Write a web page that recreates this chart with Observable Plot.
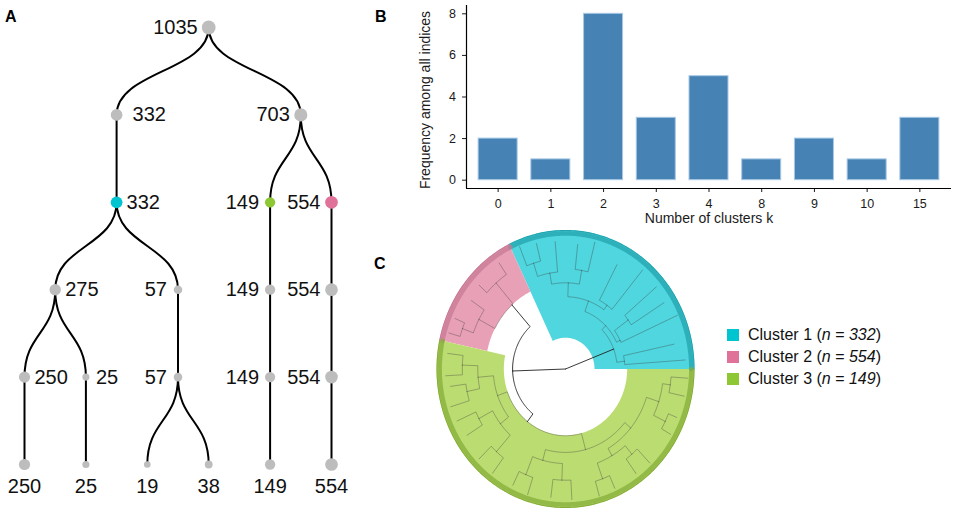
<!DOCTYPE html>
<html><head><meta charset="utf-8">
<script src="https://cdn.jsdelivr.net/npm/d3@7"></script>
<script src="https://cdn.jsdelivr.net/npm/@observablehq/plot@0.6"></script>
<style>
body{margin:0;background:#fff;font-family:"Liberation Sans",Arial,sans-serif;}
#fig{position:relative;width:957px;height:512px;overflow:hidden;background:#fff;}
.panel{position:absolute;}
.lab{position:absolute;font-weight:bold;font-size:16px;line-height:16px;color:#000;}
#legend{position:absolute;left:727px;top:324px;font-size:16px;color:#111;}
#legend .row{display:flex;align-items:center;height:22px;}
#legend .sw{width:12px;height:12px;margin-right:9px;}
</style></head><body><div id="fig"></div>
<script>
// ---------------- Panel A: cluster-size tree ----------------
const treeSizes   = [1035, 332, 703, 332, 149, 554, 275, 57, 149, 554, 250, 25, 57, 149, 554, 250, 25, 19, 38, 149, 554];
const treeParents = [-1, 0, 0, 1, 2, 2, 3, 3, 4, 5, 6, 6, 7, 8, 9, 10, 11, 12, 12, 13, 14];
const treeCluster = [null, null, null, "Cluster 1", "Cluster 3", "Cluster 2", null, null, null, null, null, null, null, null, null, null, null, null, null, null, null];

// ---------------- Panel B: frequency of k ----------------
const kLabels = ["0", "1", "2", "3", "4", "8", "9", "10", "15"];
const kFreq   = [2, 1, 8, 3, 5, 1, 2, 1, 3];

// ---------------- Panel C: circular dendrogram ----------------
const clusterNames = ["Cluster 1", "Cluster 2", "Cluster 3"];
const clusterN     = [332, 554, 149];
const sectorStart  = [0, 116, 168];     // degrees
const sectorEnd    = [116, 168, 360];
const sectorInner  = [0.225, 0.62, 0.478];
// main visible branches (angle in degrees, radius relative to outer ring, parent index)
const dendAngle  = [0, 21, 182, 7, 45, 4, 12, 26, 70, 24, 36, 32, 40, 55, 88, 50, 62, 80, 100, 76, 84, 95, 108, 104, 112,
                    132, 131, 152, 124, 138, 146, 160, 157, 164,
                    232, 200, 285, 185, 218, 178, 192, 173, 183, 188, 197, 208, 228, 204, 212, 224, 233,
                    255, 320, 248, 268, 244, 252, 263, 273, 300, 342, 290, 310, 286, 294, 306, 314, 334, 352, 330, 338, 348, 356];
const dendRadius = [0, 0.40, 0.41, 0.46, 0.44, 0.93, 0.86, 0.47, 0.52, 0.95, 0.60, 0.90, 0.92, 0.56, 0.62, 0.93, 0.85, 0.72, 0.70, 0.94, 0.90, 0.92, 0.80, 0.93, 0.95,
                    0.62, 0.82, 0.76, 0.92, 0.90, 0.88, 0.85, 0.93, 0.94,
                    0.48, 0.56, 0.60, 0.68, 0.64, 0.80, 0.78, 0.92, 0.93, 0.90, 0.93, 0.76, 0.80, 0.92, 0.90, 0.93, 0.94,
                    0.68, 0.66, 0.82, 0.80, 0.93, 0.95, 0.93, 0.94, 0.72, 0.76, 0.84, 0.80, 0.95, 0.94, 0.93, 0.94, 0.86, 0.82, 0.94, 0.93, 0.94, 0.95];
const dendParent = [-1, 0, 0, 1, 1, 3, 3, 4, 4, 7, 7, 10, 10, 8, 8, 13, 13, 14, 14, 17, 17, 18, 18, 22, 22,
                    2, 25, 25, 26, 26, 27, 27, 31, 31,
                    2, 34, 34, 35, 35, 37, 37, 39, 39, 40, 40, 38, 38, 45, 45, 46, 46,
                    36, 36, 51, 51, 53, 53, 54, 54, 52, 52, 59, 59, 61, 61, 62, 62, 60, 60, 67, 67, 68, 68];

const nodeColor = {"Cluster 1": "#00c4cf", "Cluster 2": "#e0729a", "Cluster 3": "#8ec734"};
const hiFill    = {"Cluster 1": "#4fd6de", "Cluster 2": "#e8a0b6", "Cluster 3": "#bbdc71"};
const rimColor  = {"Cluster 1": "#23a3ad", "Cluster 2": "#c87a94", "Cluster 3": "#86ad3a"};
const FONT = "Liberation Sans, Arial, sans-serif";

const fig = document.getElementById("fig");
function place(el, left, top) { el.classList.add("panel"); el.style.left = left + "px"; el.style.top = top + "px"; fig.appendChild(el); }

// ---------- Panel A ----------
const rows = treeSizes.map((s, i) => ({id: String(i), parent: treeParents[i] < 0 ? null : String(treeParents[i]), size: s, cluster: treeCluster[i]}));
const root = d3.stratify().id(d => d.id).parentId(d => d.parent)(rows);
root.leaves().forEach((l, i) => { l.x = i; });
root.eachAfter(n => { if (n.children) n.x = d3.mean(n.children, c => c.x); });
const tnodes = root.descendants();
const tlinks = root.links();
const rightSide = new Set(["1", "3", "6", "10", "11"]);
const wideRight = new Set(["1"]);
const leftNodes = tnodes.filter(n => n.children && !rightSide.has(n.id));
const rightNodes = tnodes.filter(n => n.children && rightSide.has(n.id) && !wideRight.has(n.id));
const wideNodes = tnodes.filter(n => wideRight.has(n.id));
const leafNodes = tnodes.filter(n => !n.children);
const lbl = d => String(d.data.size);

const plotA = Plot.plot({
  width: 400, height: 512, marginLeft: 24, marginRight: 69, marginTop: 27, marginBottom: 48,
  style: {background: "transparent", fontFamily: FONT, fontSize: "20px", color: "#111"},
  x: {domain: [0, 5], axis: null},
  y: {domain: [0, 5], reverse: true, axis: null},
  r: {type: "log", domain: [19, 1035], range: [3.3, 6.9]},
  marks: [
    Plot.link(tlinks, {x1: d => d.source.x, y1: d => d.source.depth, x2: d => d.target.x, y2: d => d.target.depth, curve: "bump-y", stroke: "#000", strokeWidth: 2}),
    Plot.dot(tnodes, {x: "x", y: "depth", r: d => d.data.size, fill: d => d.data.cluster ? nodeColor[d.data.cluster] : "#bdbdbd", stroke: "none"}),
    Plot.text(leftNodes, {x: "x", y: "depth", text: lbl, textAnchor: "end", dx: -11, fontSize: 20}),
    Plot.text(rightNodes, {x: "x", y: "depth", text: lbl, textAnchor: "start", dx: 10, fontSize: 20}),
    Plot.text(wideNodes, {x: "x", y: "depth", text: lbl, textAnchor: "start", dx: 16, fontSize: 20}),
    Plot.text(leafNodes, {x: "x", y: "depth", text: lbl, textAnchor: "middle", dy: 22, fontSize: 20})
  ]
});
place(plotA, 0, 0);

// ---------- Panel B ----------
const barData = kLabels.map((k, i) => ({i, k, f: kFreq[i]}));
const plotB = Plot.plot({
  width: 557, height: 250, marginLeft: 66, marginRight: 6, marginTop: 5, marginBottom: 62,
  style: {background: "transparent", fontFamily: FONT, fontSize: "12.5px", color: "#1a1a1a"},
  x: {domain: [-0.6, 8.6], axis: null},
  y: {domain: [-0.4, 8.4], axis: null},
  marks: [
    Plot.rectY(barData, {x1: d => d.i - 0.37, x2: d => d.i + 0.37, y1: 0, y2: "f", fill: "#4682b4", stroke: "#a8c8e6", strokeWidth: 1}),
    Plot.axisX(d3.range(kLabels.length), {tickFormat: i => kLabels[i], tickSize: 4, tickPadding: 7, label: null, fontSize: 12.5}),
    Plot.axisY([0, 2, 4, 6, 8], {tickSize: 4, tickPadding: 6.5, label: null, fontSize: 12.5}),
    Plot.ruleX([-0.6], {stroke: "#000", strokeWidth: 1.2}),
    Plot.ruleY([-0.4], {stroke: "#000", strokeWidth: 1.2}),
    Plot.text(["Number of clusters k"], {frameAnchor: "bottom", textAnchor: "middle", dy: 34, fontSize: 14}),
    Plot.text(["Frequency among all indices"], {frameAnchor: "left", textAnchor: "middle", dx: -41, dy: 3, rotate: -90, fontSize: 14})
  ]
});
place(plotB, 400, 0);

// ---------- Panel C ----------
function pol(a, r) { const t = a * Math.PI / 180; return {x: r * Math.cos(t), y: r * Math.sin(t)}; }
function arcPts(a0, a1, r) {
  const n = Math.max(2, Math.ceil(Math.abs(a1 - a0)) + 1);
  return d3.range(n).map(k => pol(a0 + (a1 - a0) * k / (n - 1), r));
}
const cMarks = [];
clusterNames.forEach((c, i) => {
  const poly = arcPts(sectorStart[i], sectorEnd[i], 1).concat(arcPts(sectorEnd[i], sectorStart[i], sectorInner[i]));
  cMarks.push(Plot.line(poly, {x: "x", y: "y", fill: hiFill[c], stroke: "none", curve: "linear"}));
});
// branches
const segs = [];
dendAngle.forEach((a, i) => {
  const p = dendParent[i];
  if (p < 0) return;
  const pts = dendRadius[p] > 0 ? arcPts(dendAngle[p], a, dendRadius[p]) : [pol(0, 0)];
  pts.push(pol(a, dendRadius[i]));
  pts.forEach(q => segs.push({...q, id: i, outer: p === 0 || i === 25 || i === 34}));
});
cMarks.push(Plot.line(segs.filter(d => !d.outer), {x: "x", y: "y", z: "id", stroke: "#3a3a3a", strokeOpacity: 0.6, strokeWidth: 0.6}));
cMarks.push(Plot.line(segs.filter(d => d.outer), {x: "x", y: "y", z: "id", stroke: "#222", strokeWidth: 0.9}));
// dense tips along the rim
clusterNames.forEach((c, i) => {
  cMarks.push(Plot.line(arcPts(sectorStart[i], sectorEnd[i], 0.975), {x: "x", y: "y", stroke: rimColor[c], strokeWidth: 4.5, strokeDasharray: "1,1.2", strokeOpacity: 0.75}));
  cMarks.push(Plot.line(arcPts(sectorStart[i], sectorEnd[i], 0.996), {x: "x", y: "y", stroke: rimColor[c], strokeWidth: 1.1}));
});
const plotC = Plot.plot({
  width: 300, height: 290, marginLeft: 16, marginRight: 26, marginTop: 7.5, marginBottom: 4.5,
  style: {background: "transparent"},
  x: {domain: [-1, 1], axis: null},
  y: {domain: [-1, 1], axis: null},
  marks: cMarks
});
place(plotC, 420, 222);

// legend
const lg = document.createElement("div");
lg.id = "legend";
clusterNames.forEach((c, i) => {
  const row = document.createElement("div"); row.className = "row";
  const sw = document.createElement("div"); sw.className = "sw"; sw.style.background = nodeColor[c];
  const tx = document.createElement("span");
  tx.innerHTML = c + " (<i>n</i> = <i>" + clusterN[i] + "</i>)";
  row.appendChild(sw); row.appendChild(tx); lg.appendChild(row);
});
fig.appendChild(lg);

// panel letters
[["A", 5, 9], ["B", 375, 9], ["C", 374, 256]].forEach(([t, x, y]) => {
  const d = document.createElement("div"); d.className = "lab"; d.textContent = t;
  d.style.left = x + "px"; d.style.top = y + "px"; fig.appendChild(d);
});
</script></body></html>
